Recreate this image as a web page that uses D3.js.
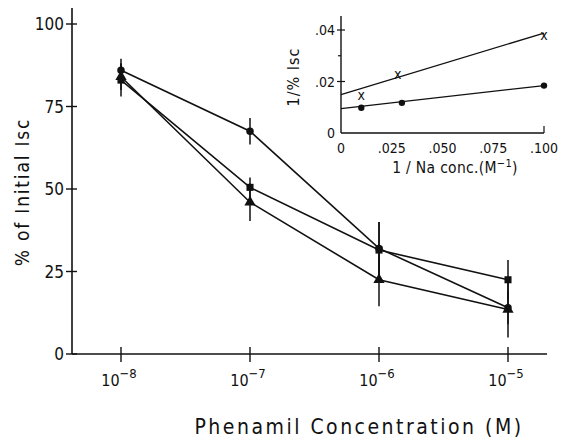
<!DOCTYPE html>
<html><head><meta charset="utf-8">
<script src="https://cdn.jsdelivr.net/npm/d3@7"></script>
<style>
body{margin:0;background:#fff;}
text{font-family:"Liberation Sans Narrow","DejaVu Sans Condensed","Liberation Sans",sans-serif;fill:#111;}
</style></head>
<body><svg id="c" width="566" height="440"></svg>
<script>
// ---- main chart data ----
const concentrations = [1e-8, 1e-7, 1e-6, 1e-5];
const xTickExponents = [-8, -7, -6, -5];
const yTicks = [0, 25, 50, 75, 100];
const circleValues   = [86, 67.5, 32, 14];
const circleErrors   = [3.5, 4, 8, 5];
const squareValues   = [83, 50.5, 31.5, 22.5];
const squareErrors   = [5, 3, 8.5, 6];
const triangleValues = [84, 46, 22.5, 13.5];
const triangleErrors = [4, 5.7, 8, 8.5];
// ---- inset data ----
const insetXTicks = [0, 0.025, 0.05, 0.075, 0.1];
const insetXTickLabels = ["0", ".025", ".050", ".075", ".100"];
const insetYTicks = [0, 0.02, 0.04];
const insetYTickLabels = ["0", ".02", ".04"];
const crossX = [0.01, 0.028, 0.1];
const crossY = [0.0145, 0.0227, 0.0376];
const dotX = [0.01, 0.03, 0.1];
const dotY = [0.0098, 0.0117, 0.0184];
const fitCrossX = [0, 0.1], fitCrossY = [0.0149, 0.0388];
const fitDotX = [0, 0.1], fitDotY = [0.0095, 0.0184];

const svg = d3.select("#c");
const ink = "#111";

// main scales
const x = d3.scaleLog().domain([1e-8, 1e-5]).range([121, 508]);
const y = d3.scaleLinear().domain([0, 100]).range([354, 24]);
const xAxisStart = 72, xAxisEnd = 547, yAxisTop = 8;

const g = svg.append("g");
g.append("line").attr("x1", xAxisStart).attr("x2", xAxisStart).attr("y1", y(0)).attr("y2", yAxisTop)
  .attr("stroke", ink).attr("stroke-width", 1.6);
g.append("line").attr("x1", xAxisStart).attr("x2", xAxisEnd).attr("y1", y(0)).attr("y2", y(0))
  .attr("stroke", ink).attr("stroke-width", 1.6);
yTicks.forEach(t => {
  g.append("line").attr("x1", xAxisStart - 6).attr("x2", xAxisStart + 5).attr("y1", y(t)).attr("y2", y(t))
    .attr("stroke", ink).attr("stroke-width", 1.4);
  g.append("text").attr("x", xAxisStart - 8).attr("y", y(t)).attr("dy", "0.36em")
    .attr("text-anchor", "end").attr("font-size", 17).text(t);
});
concentrations.forEach((c, i) => {
  g.append("line").attr("x1", x(c)).attr("x2", x(c)).attr("y1", y(0) - 7).attr("y2", y(0) + 8)
    .attr("stroke", ink).attr("stroke-width", 1.4);
  const t = g.append("text").attr("x", x(c) - 2).attr("y", 386).attr("text-anchor", "middle").attr("font-size", 16);
  t.append("tspan").text("10");
  t.append("tspan").attr("dy", -8).attr("font-size", 13).text("\u2212" + (-xTickExponents[i]));
});
g.append("text").attr("transform", "translate(29,192) rotate(-90)").attr("text-anchor", "middle")
  .attr("font-size", 19).attr("letter-spacing", 1.8).text("% of Initial Isc");
g.append("text").attr("x", 359).attr("y", 434).attr("text-anchor", "middle")
  .attr("font-size", 21).attr("letter-spacing", 2.5).text("Phenamil Concentration (M)");

const series = [
  {vals: circleValues, errs: circleErrors, shape: d3.symbolCircle, size: 44},
  {vals: squareValues, errs: squareErrors, shape: d3.symbolSquare, size: 50},
  {vals: triangleValues, errs: triangleErrors, shape: d3.symbolTriangle, size: 55}
];
const line = d3.line().x((d, i) => x(concentrations[i])).y(d => y(d));
series.forEach(s => {
  g.append("path").attr("d", line(s.vals)).attr("fill", "none").attr("stroke", ink).attr("stroke-width", 1.6);
  s.vals.forEach((v, i) => {
    g.append("line").attr("x1", x(concentrations[i])).attr("x2", x(concentrations[i]))
      .attr("y1", y(v - s.errs[i])).attr("y2", y(v + s.errs[i])).attr("stroke", ink).attr("stroke-width", 1.5);
  });
  s.vals.forEach((v, i) => {
    g.append("path").attr("d", d3.symbol().type(s.shape).size(s.size)())
      .attr("transform", `translate(${x(concentrations[i])},${y(v)})`).attr("fill", ink);
  });
});

// ---- inset ----
const ix = d3.scaleLinear().domain([0, 0.1]).range([341, 544]);
const iy = d3.scaleLinear().domain([0, 0.04]).range([133, 30]);
const ig = svg.append("g");
ig.append("line").attr("x1", ix(0)).attr("x2", ix(0)).attr("y1", iy(0)).attr("y2", 16)
  .attr("stroke", ink).attr("stroke-width", 1.4);
ig.append("line").attr("x1", ix(0)).attr("x2", ix(0.1)).attr("y1", iy(0)).attr("y2", iy(0))
  .attr("stroke", ink).attr("stroke-width", 1.4);
ig.append("line").attr("x1", ix(0.1)).attr("x2", ix(0.1)).attr("y1", iy(0)).attr("y2", iy(0) - 7)
  .attr("stroke", ink).attr("stroke-width", 1.2);
insetYTicks.forEach((t, i) => {
  if (t > 0) ig.append("line").attr("x1", ix(0) - 4).attr("x2", ix(0) + 4).attr("y1", iy(t)).attr("y2", iy(t))
    .attr("stroke", ink).attr("stroke-width", 1.2);
  ig.append("text").attr("x", ix(0) - 6).attr("y", iy(t)).attr("dy", "0.36em").attr("text-anchor", "end")
    .attr("font-size", 14).text(insetYTickLabels[i]);
});
ig.append("line").attr("x1", ix(0) - 3).attr("x2", ix(0)).attr("y1", iy(0.03)).attr("y2", iy(0.03))
  .attr("stroke", ink).attr("stroke-width", 1.2);
insetXTicks.forEach((t, i) => {
  ig.append("text").attr("x", ix(t)).attr("y", 153).attr("text-anchor", "middle")
    .attr("font-size", 14).text(insetXTickLabels[i]);
});
const it = ig.append("text").attr("x", 455).attr("y", 173).attr("text-anchor", "middle").attr("font-size", 15.5)
  .attr("letter-spacing", 0.3);
it.append("tspan").text("1 / Na conc.(M");
it.append("tspan").attr("dy", -6).attr("font-size", 11).text("\u22121");
it.append("tspan").attr("dy", 6).text(")");
ig.append("text").attr("transform", "translate(299,77) rotate(-90)").attr("text-anchor", "middle")
  .attr("font-size", 16).attr("letter-spacing", 1).text("1/% Isc");

const fitLine = d3.line().x(d => ix(d[0])).y(d => iy(d[1]));
ig.append("path").attr("d", fitLine(d3.zip(fitCrossX, fitCrossY))).attr("fill", "none").attr("stroke", ink).attr("stroke-width", 1.3);
ig.append("path").attr("d", fitLine(d3.zip(fitDotX, fitDotY))).attr("fill", "none").attr("stroke", ink).attr("stroke-width", 1.3);
crossX.forEach((cx, i) => {
  ig.append("text").attr("x", ix(cx)).attr("y", iy(crossY[i])).attr("dy", "0.3em").attr("text-anchor", "middle")
    .attr("font-family", "DejaVu Serif").attr("font-size", 14).text("x");
});
dotX.forEach((dx, i) => {
  ig.append("circle").attr("cx", ix(dx)).attr("cy", iy(dotY[i])).attr("r", 3.2).attr("fill", ink);
});
</script></body></html>
